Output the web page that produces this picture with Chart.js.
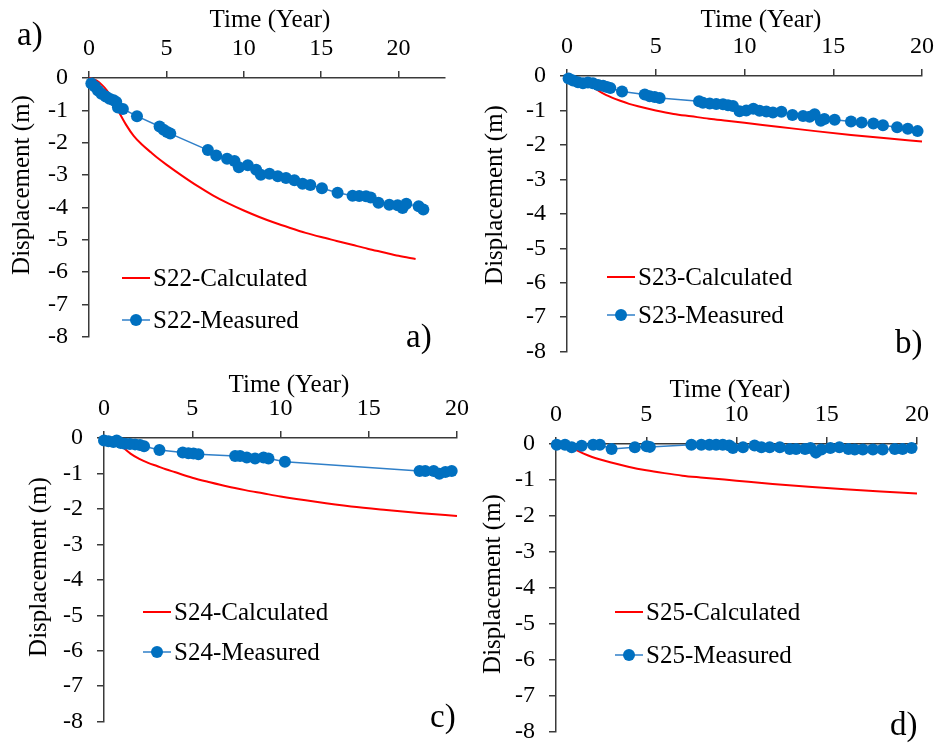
<!DOCTYPE html>
<html lang="en">
<head>
<meta charset="UTF-8">
<title>Displacement vs time S22-S25</title>
<script src="https://cdn.jsdelivr.net/npm/chart.js@4.4.1/dist/chart.umd.min.js"></script>
<style>
  html, body { margin: 0; padding: 0; background: #fff; width: 942px; height: 750px; overflow: hidden; position: relative; }
  canvas { position: absolute; }
</style>
</head>
<body>
<canvas id="chartA" width="470" height="365" style="left:0;top:0"></canvas>
<canvas id="chartB" width="472" height="380" style="left:470px;top:0"></canvas>
<canvas id="chartC" width="480" height="385" style="left:0;top:365px"></canvas>
<canvas id="chartD" width="472" height="390" style="left:470px;top:370px"></canvas>
<script>
// ---- data (time in years, displacement in m) ----
const s22MeasT = [0.15, 0.37, 0.58, 0.8, 1.08, 1.33, 1.59, 1.76, 1.87, 2.19, 3.1, 4.56, 4.82, 5.05, 5.25, 7.68, 8.22, 8.92, 9.4, 9.68, 10.26, 10.8, 11.1, 11.66, 12.2, 12.73, 13.27, 13.8, 14.3, 15.05, 16.06, 17.03, 17.46, 17.9, 18.2, 18.7, 19.4, 19.94, 20.26, 20.5, 21.3, 21.6];
const s22MeasD = [-0.17, -0.26, -0.39, -0.49, -0.57, -0.64, -0.69, -0.74, -0.91, -0.96, -1.18, -1.5, -1.6, -1.67, -1.72, -2.23, -2.4, -2.5, -2.57, -2.76, -2.7, -2.84, -2.99, -2.96, -3.04, -3.09, -3.16, -3.27, -3.31, -3.41, -3.55, -3.64, -3.65, -3.66, -3.7, -3.86, -3.92, -3.94, -4.02, -3.89, -3.97, -4.07];
const s22CalcT = [0, 0.5, 0.85, 1.15, 1.5, 1.9, 2.4, 2.9, 3.4, 4, 4.5, 5, 6, 7, 8, 9, 10, 11, 12, 13, 14, 15, 16, 17, 18, 19, 20, 21.1];
const s22CalcD = [0, -0.08, -0.22, -0.38, -0.64, -1.02, -1.45, -1.8, -2.05, -2.3, -2.5, -2.68, -3.02, -3.34, -3.63, -3.88, -4.1, -4.3, -4.48, -4.64, -4.79, -4.92, -5.04, -5.16, -5.28, -5.39, -5.5, -5.6];

const s23MeasT = [0.09, 0.34, 0.62, 0.9, 1.18, 1.46, 1.75, 2.03, 2.25, 2.44, 3.1, 4.38, 4.66, 4.94, 5.22, 7.44, 7.66, 8.04, 8.41, 8.79, 9.07, 9.35, 9.72, 10.1, 10.5, 10.85, 11.23, 11.6, 12.08, 12.7, 13.3, 13.67, 13.95, 14.3, 14.5, 15.08, 16.0, 16.6, 17.26, 17.8, 18.6, 19.2, 19.75];
const s23MeasD = [-0.07, -0.13, -0.18, -0.21, -0.19, -0.21, -0.26, -0.28, -0.32, -0.35, -0.45, -0.54, -0.59, -0.61, -0.64, -0.73, -0.78, -0.8, -0.81, -0.82, -0.85, -0.87, -1.02, -1.0, -0.95, -1.01, -1.03, -1.06, -1.04, -1.13, -1.16, -1.18, -1.11, -1.3, -1.25, -1.27, -1.32, -1.35, -1.38, -1.43, -1.49, -1.53, -1.6];
const s23CalcT = [0, 0.5, 1, 1.5, 2, 2.5, 3, 3.5, 4, 5, 6, 7, 8, 9, 10, 12, 14, 16, 18, 20];
const s23CalcD = [0, -0.05, -0.15, -0.33, -0.5, -0.62, -0.72, -0.81, -0.88, -1.0, -1.1, -1.17, -1.24, -1.3, -1.36, -1.48, -1.6, -1.71, -1.81, -1.9];

const s24MeasT = [0, 0.25, 0.53, 0.72, 0.95, 1.19, 1.47, 1.76, 2.04, 2.27, 3.14, 4.46, 4.78, 5.07, 5.35, 7.43, 7.71, 8.09, 8.56, 9.04, 9.32, 10.25, 17.88, 18.2, 18.68, 19.0, 19.34, 19.7];
const s24MeasD = [-0.07, -0.09, -0.11, -0.07, -0.14, -0.16, -0.17, -0.18, -0.2, -0.23, -0.34, -0.41, -0.43, -0.44, -0.46, -0.51, -0.51, -0.55, -0.58, -0.55, -0.58, -0.67, -0.93, -0.93, -0.93, -1.01, -0.96, -0.93];
const s24CalcT = [0, 0.5, 0.9, 1.2, 1.5, 2, 2.5, 3, 3.5, 4, 5, 6, 7, 8, 9, 10, 12, 14, 16, 18, 20];
const s24CalcD = [0, -0.05, -0.18, -0.32, -0.44, -0.59, -0.7, -0.79, -0.88, -0.96, -1.12, -1.25, -1.37, -1.47, -1.56, -1.65, -1.8, -1.93, -2.03, -2.12, -2.2];

const s25MeasT = [0.04, 0.5, 0.87, 1.42, 2.06, 2.43, 3.08, 4.37, 5.02, 5.2, 7.5, 8.05, 8.5, 8.87, 9.24, 9.6, 9.8, 10.36, 11.0, 11.38, 11.84, 12.4, 12.95, 13.3, 13.8, 14.1, 14.4, 14.7, 15.2, 15.7, 16.2, 16.55, 17.0, 17.56, 18.1, 18.77, 19.2, 19.7];
const s25MeasD = [-0.02, -0.02, -0.09, -0.05, -0.02, -0.02, -0.14, -0.09, -0.06, -0.08, -0.02, -0.02, -0.02, -0.02, -0.02, -0.04, -0.11, -0.09, -0.04, -0.09, -0.09, -0.09, -0.14, -0.14, -0.14, -0.11, -0.24, -0.15, -0.11, -0.09, -0.14, -0.15, -0.15, -0.15, -0.15, -0.14, -0.14, -0.11];
const s25CalcT = [0, 0.5, 1, 1.5, 2, 2.5, 3, 4, 5, 6, 7, 8, 10, 12, 14, 16, 18, 20];
const s25CalcD = [0, -0.03, -0.14, -0.26, -0.36, -0.44, -0.51, -0.63, -0.73, -0.81, -0.88, -0.93, -1.02, -1.11, -1.19, -1.26, -1.32, -1.38];

const yTicks = [0, -1, -2, -3, -4, -5, -6, -7, -8];
const xTickStep = 5;

const FONT = '"Liberation Serif", "Times New Roman", serif';
const AXIS = '#3a3a3a';
const RED = '#ff0000';
const BLUE = '#0070c0';

function pts(t, d) {
  return t.map((v, i) => ({ x: v, y: d[i] }));
}

// draws axis titles, in-plot legend and panel letters
const overlay = {
  id: 'overlay',
  afterDraw(chart, args, o) {
    const ctx = chart.ctx;
    const dx = o.left, dy = o.top;
    const ds = chart.data.datasets;
    ctx.save();
    ctx.fillStyle = '#000';
    ctx.font = '25px ' + FONT;
    ctx.textAlign = 'center';
    ctx.textBaseline = 'alphabetic';
    ctx.fillText('Time (Year)', o.xTitle[0] - dx, o.xTitle[1] - dy);

    ctx.save();
    ctx.translate(o.yTitle[0] - dx, o.yTitle[1] - dy);
    ctx.rotate(-Math.PI / 2);
    ctx.textBaseline = 'middle';
    ctx.fillText('Displacement (m)', 0, 0);
    ctx.restore();

    // legend
    const lx = o.legend[0] - dx;
    const rows = [o.legend[1] - dy, o.legend[2] - dy];
    const calc = ds[1], meas = ds[0];
    ctx.textAlign = 'left';
    ctx.textBaseline = 'middle';
    ctx.strokeStyle = calc.borderColor;
    ctx.lineWidth = calc.borderWidth;
    ctx.beginPath(); ctx.moveTo(lx, rows[0]); ctx.lineTo(lx + 28, rows[0]); ctx.stroke();
    ctx.fillText(calc.label, lx + 31, rows[0] + 1);
    ctx.strokeStyle = meas.borderColor;
    ctx.lineWidth = meas.borderWidth;
    ctx.beginPath(); ctx.moveTo(lx, rows[1]); ctx.lineTo(lx + 28, rows[1]); ctx.stroke();
    ctx.fillStyle = meas.pointBackgroundColor;
    ctx.beginPath(); ctx.arc(lx + 14, rows[1], meas.pointRadius, 0, Math.PI * 2); ctx.fill();
    ctx.fillStyle = '#000';
    ctx.fillText(meas.label, lx + 31, rows[1] + 1);

    ctx.font = '33px ' + FONT;
    ctx.textBaseline = 'alphabetic';
    o.letters.forEach(l => ctx.fillText(l[0], l[1] - dx, l[2] - dy));
    ctx.restore();
  }
};

function makePanel(id, cfg) {
  const cv = document.getElementById(id);
  const W = cv.width, H = cv.height;
  const a = cfg.area;
  new Chart(cv, {
    type: 'line',
    data: {
      datasets: [
        {
          label: cfg.names[1], data: pts(cfg.measT, cfg.measD), order: 0,
          borderColor: '#2f7fc8', borderWidth: 1.5,
          pointRadius: 6, pointBackgroundColor: BLUE, pointBorderColor: BLUE, pointBorderWidth: 0,
          clip: false, tension: 0
        },
        {
          label: cfg.names[0], data: pts(cfg.calcT, cfg.calcD), order: 1,
          borderColor: RED, borderWidth: 2, pointRadius: 0,
          cubicInterpolationMode: 'monotone', clip: false
        }
      ]
    },
    options: {
      responsive: false,
      animation: false,
      devicePixelRatio: 1,
      layout: { padding: { left: 0, top: 0, right: W - (a.r - cfg.left), bottom: H - (a.b - cfg.top) } },
      plugins: {
        legend: { display: false },
        tooltip: { enabled: false },
        overlay: {
          left: cfg.left, top: cfg.top,
          xTitle: cfg.xTitle, yTitle: cfg.yTitle, legend: cfg.legend, letters: cfg.letters
        }
      },
      scales: {
        x: {
          type: 'linear', position: 'top', min: 0, max: cfg.xMax,
          afterFit: s => { s.height = a.t - cfg.top; },
          grid: { drawOnChartArea: false, drawTicks: true, tickLength: 7, color: AXIS, lineWidth: 1.5 },
          border: { display: true, color: AXIS, width: 1.5 },
          ticks: { stepSize: xTickStep, includeBounds: false, padding: 8, color: '#000', font: { family: FONT, size: 24 } }
        },
        y: {
          type: 'linear', position: 'left', min: yTicks[yTicks.length - 1], max: yTicks[0],
          afterFit: s => { s.width = a.l - cfg.left; },
          afterBuildTicks: s => { s.ticks = yTicks.map(v => ({ value: v })); },
          grid: { drawOnChartArea: false, drawTicks: true, tickLength: 7, color: AXIS, lineWidth: 1.5 },
          border: { display: true, color: AXIS, width: 1.5 },
          ticks: { padding: 14, color: '#000', font: { family: FONT, size: 24 } }
        }
      }
    },
    plugins: [overlay]
  });
}

makePanel('chartA', {
  left: 0, top: 0, area: { l: 89, t: 78, r: 445, b: 350 }, xMax: 23,
  measT: s22MeasT, measD: s22MeasD, calcT: s22CalcT, calcD: s22CalcD,
  names: ['S22-Calculated', 'S22-Measured'],
  xTitle: [270, 27], yTitle: [22, 185], legend: [122, 278, 320],
  letters: [['a)', 17, 45], ['a)', 406, 347]]
});
makePanel('chartB', {
  left: 470, top: 0, area: { l: 567, t: 76, r: 922, b: 357 }, xMax: 20,
  measT: s23MeasT, measD: s23MeasD, calcT: s23CalcT, calcD: s23CalcD,
  names: ['S23-Calculated', 'S23-Measured'],
  xTitle: [761, 27], yTitle: [495, 195], legend: [607, 277, 315],
  letters: [['b)', 895, 353]]
});
makePanel('chartC', {
  left: 0, top: 365, area: { l: 104, t: 438, r: 457, b: 728 }, xMax: 20,
  measT: s24MeasT, measD: s24MeasD, calcT: s24CalcT, calcD: s24CalcD,
  names: ['S24-Calculated', 'S24-Measured'],
  xTitle: [289, 392], yTitle: [39, 567], legend: [143, 612, 652],
  letters: [['c)', 430, 727]]
});
makePanel('chartD', {
  left: 470, top: 370, area: { l: 556, t: 444, r: 917, b: 741 }, xMax: 20,
  measT: s25MeasT, measD: s25MeasD, calcT: s25CalcT, calcD: s25CalcD,
  names: ['S25-Calculated', 'S25-Measured'],
  xTitle: [730, 397], yTitle: [493, 584], legend: [615, 612, 655],
  letters: [['d)', 890, 735]]
});
</script>
</body>
</html>
